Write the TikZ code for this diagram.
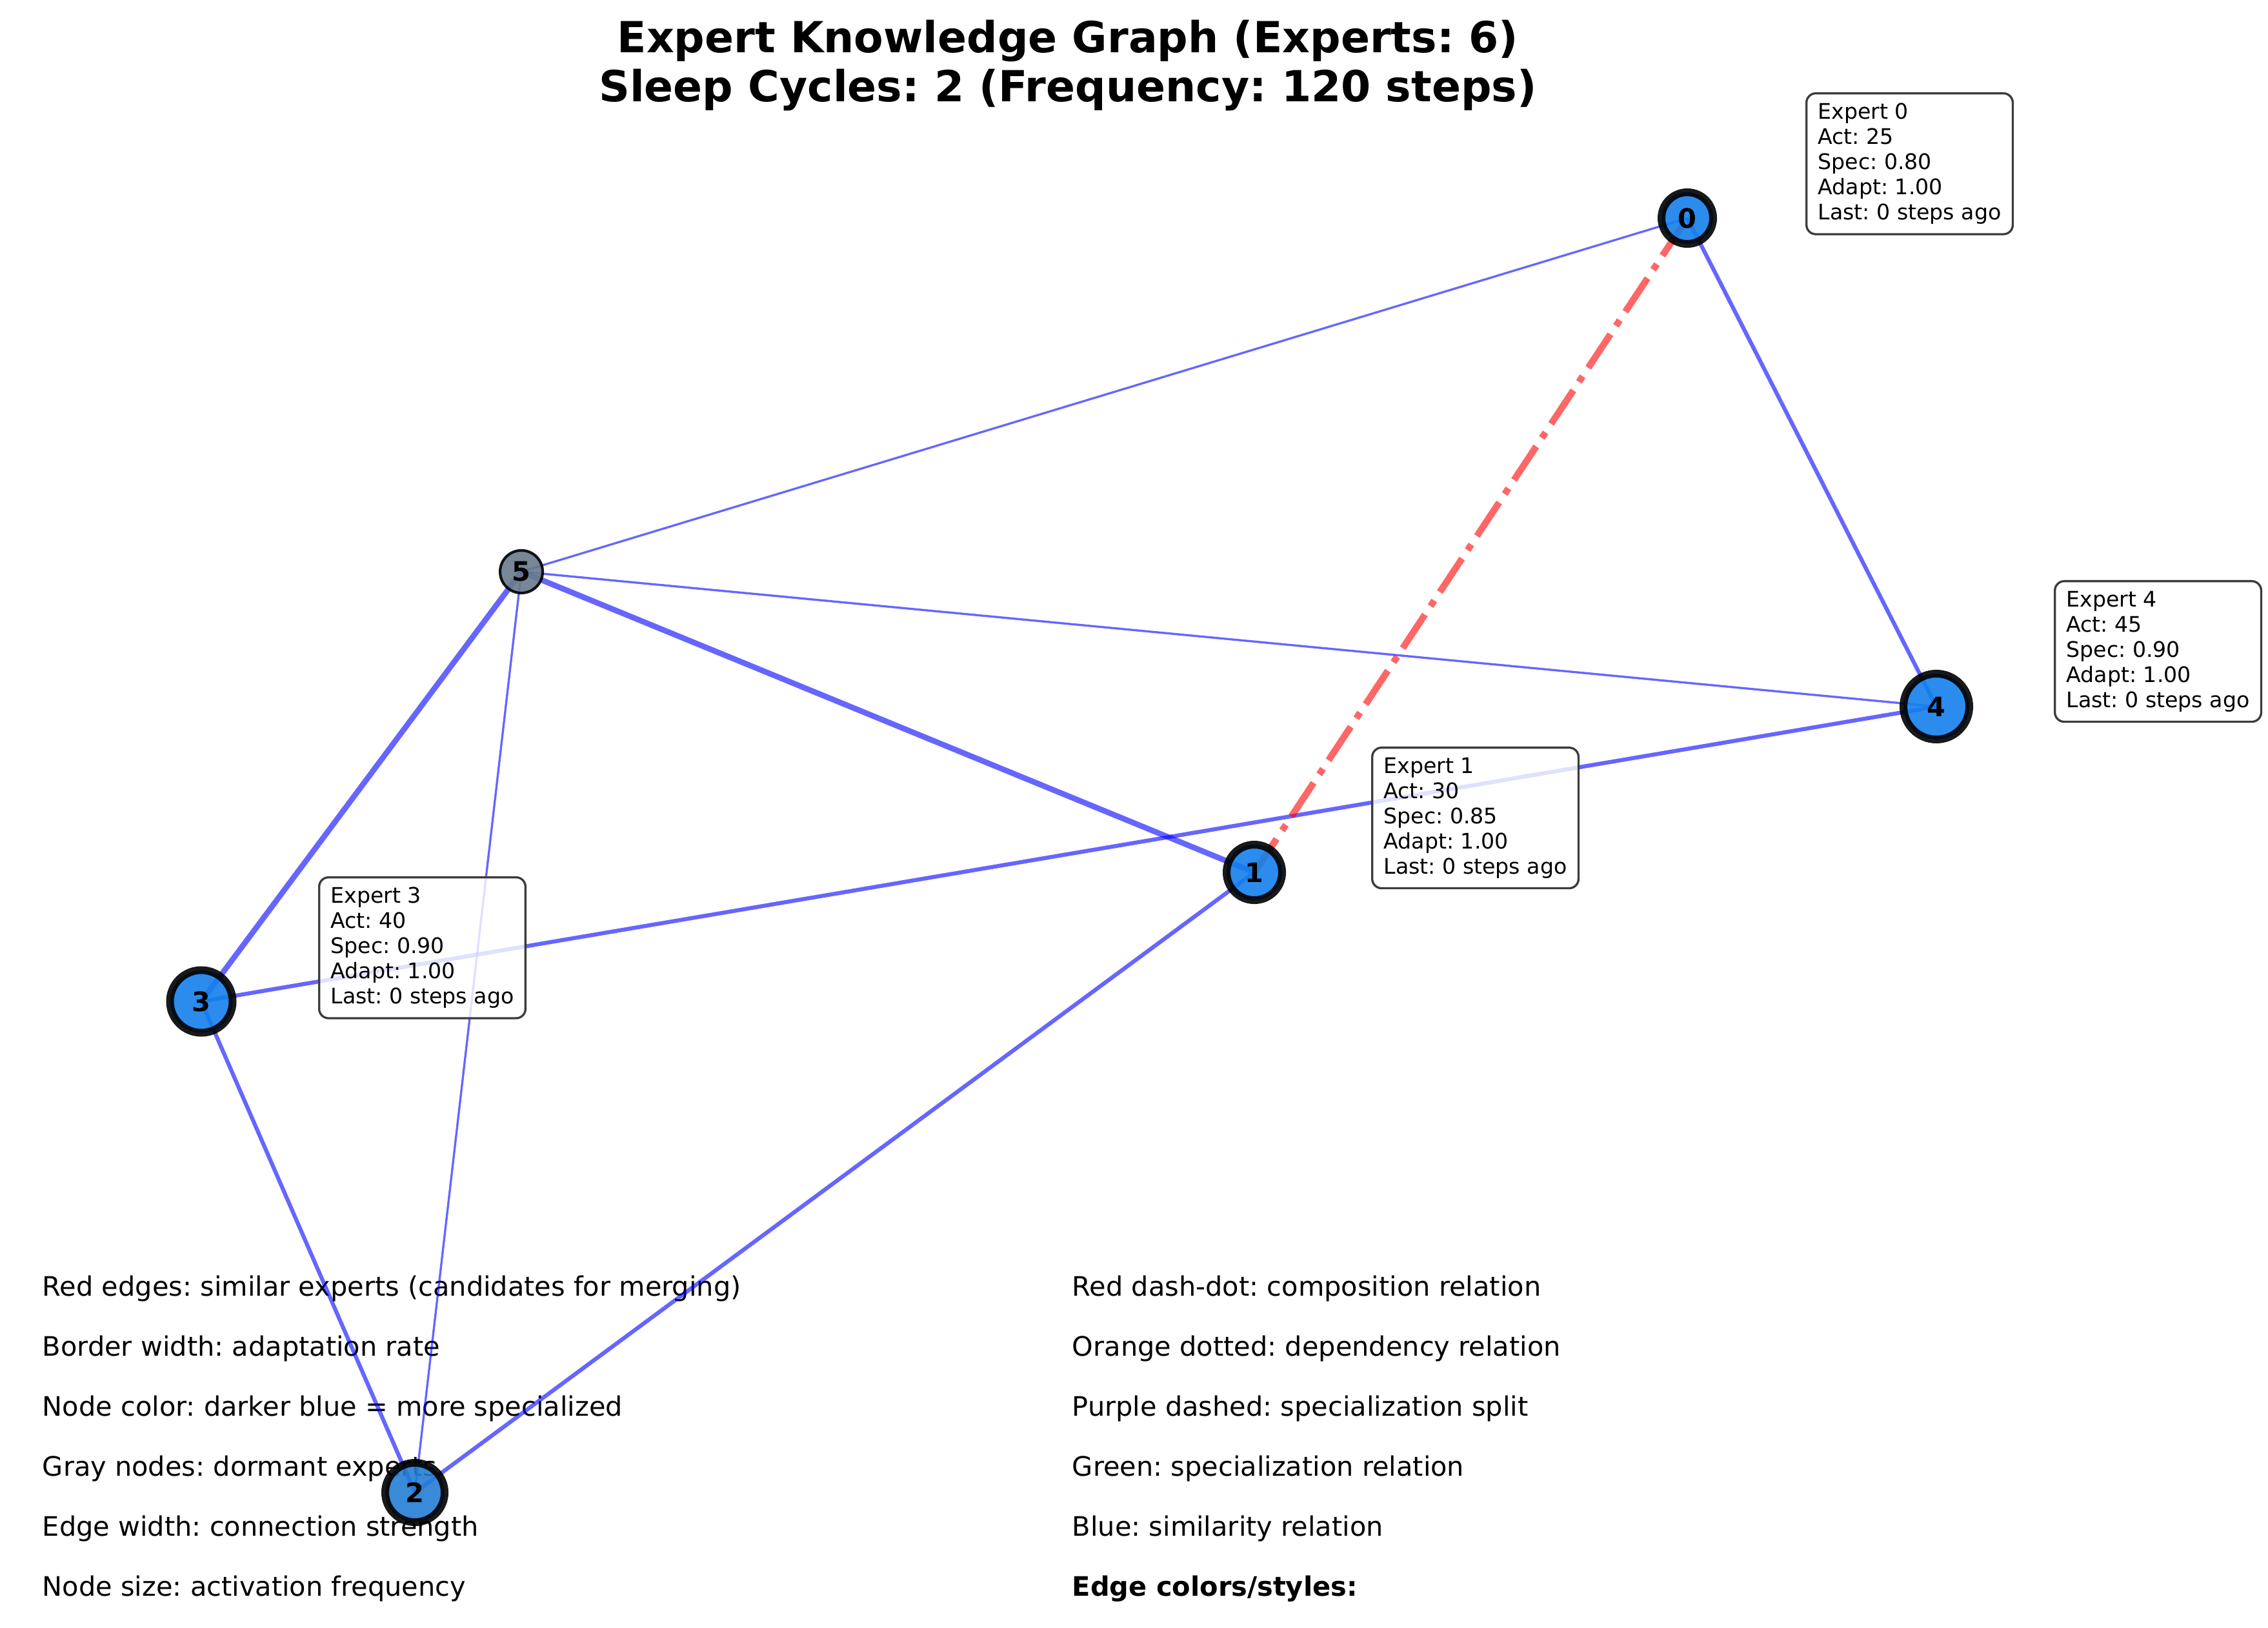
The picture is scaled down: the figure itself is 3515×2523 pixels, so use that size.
\documentclass[tikz,border=0pt]{standalone}
\usepackage{fontspec}
\setmainfont{DejaVu Sans}
\usetikzlibrary{positioning}
\pgfdeclarelayer{back}
\pgfdeclarelayer{edges}
\pgfsetlayers{back,edges,main}
\definecolor{nodeblue}{RGB}{20,128,235}
\definecolor{nodeblueB}{RGB}{36,125,212}
\definecolor{dormantgray}{RGB}{105,122,140}
\definecolor{boxline}{RGB}{60,60,60}

\begin{document}
\frenchspacing
\begin{tikzpicture}[x=0.2409pt, y=-0.2409pt,
    expert/.style={circle, inner sep=0pt, minimum size={#1*0.2409pt}, fill=nodeblue, fill opacity=0.9,
        draw=black, draw opacity=0.9, text opacity=1, line width=2.9pt, font=\bfseries\fontsize{10}{12}\selectfont},
    dormant/.style={expert=#1, fill=dormantgray, line width=1pt},
    infobox/.style={draw=boxline, line width=0.8pt, rounded corners=3.5pt, fill=white, fill opacity=0.8,
        text opacity=1, align=left, anchor=north west, inner xsep=4.3pt, inner ysep=3.7pt,
        font=\fontsize{8}{9.4}\selectfont},
    sim/.style={draw=blue, draw opacity=0.6},
    weak/.style={sim, line width=0.8pt},
    medium/.style={sim, line width=1.5pt},
    strong/.style={sim, line width=2.1pt},
    comp/.style={draw=red, draw opacity=0.6, line width=2.5pt, dash pattern=on 15pt off 3.8pt on 2.5pt off 3.8pt},
    legend/.style={anchor=base west, inner sep=0pt, font=\fontsize{10}{12}\selectfont},
    heading/.style={anchor=base, font=\bfseries\fontsize{16}{19}\selectfont}]
    \useasboundingbox (0,0) rectangle (3515,2523);

    % Title
    \node[heading] (title1) at (1655,82) {Expert Knowledge Graph (Experts: 6)};
    \node[heading] (title2) at (1655,158) {Sleep Cycles: 2 (Frequency: 120 steps)};

    % Experts
    \node[expert=80] (n0) at (2615,338) {0};
    \node[expert=86] (n1) at (1944,1352) {1};
    \node[expert=92, fill=nodeblueB] (n2) at (643,2313) {2};
    \node[expert=97] (n3) at (312,1552) {3};
    \node[expert=102] (n4) at (3001,1095) {4};
    \node[dormant=66] (n5) at (808,886) {5};

    % Relations
    \begin{pgfonlayer}{edges}
    \draw[weak] (n0.center) -- (n5.center);
    \draw[medium] (n0.center) -- (n4.center);
    \draw[weak] (n5.center) -- (n4.center);
    \draw[strong] (n5.center) -- (n1.center);
    \draw[strong] (n5.center) -- (n3.center);
    \draw[weak] (n5.center) -- (n2.center);
    \draw[medium] (n3.center) -- (n4.center);
    \draw[medium] (n3.center) -- (n2.center);
    \draw[medium] (n1.center) -- (n2.center);
    \draw[comp] (n1.center) -- (n0.center);
    \end{pgfonlayer}

    % Expert info
    \node[infobox] (info0) at (2798,143) {Expert 0\\Act: 25\\Spec: 0.80\\Adapt: 1.00\\Last: 0 steps ago};
    \node[infobox] (info4) at (3183,899) {Expert 4\\Act: 45\\Spec: 0.90\\Adapt: 1.00\\Last: 0 steps ago};
    \node[infobox] (info1) at (2125,1157) {Expert 1\\Act: 30\\Spec: 0.85\\Adapt: 1.00\\Last: 0 steps ago};
    \node[infobox] (info3) at (493,1358) {Expert 3\\Act: 40\\Spec: 0.90\\Adapt: 1.00\\Last: 0 steps ago};

    % Legend
    \begin{pgfonlayer}{back}
    \node[legend] (keyA) at (65,2008) {Red edges: similar experts (candidates for merging)};
    \node[legend] (keyB) at (65,2101) {Border width: adaptation rate};
    \node[legend] (keyC) at (65,2194) {Node color: darker blue = more specialized};
    \node[legend] (keyD) at (65,2287) {Gray nodes: dormant experts};
    \node[legend] (keyE) at (65,2380) {Edge width: connection strength};
    \node[legend] (keyF) at (65,2473) {Node size: activation frequency};
    \node[legend] (styA) at (1661,2008) {Red dash-dot: composition relation};
    \node[legend] (styB) at (1661,2101) {Orange dotted: dependency relation};
    \node[legend] (styC) at (1661,2194) {Purple dashed: specialization split};
    \node[legend] (styD) at (1661,2287) {Green: specialization relation};
    \node[legend] (styE) at (1661,2380) {Blue: similarity relation};
    \node[legend, font=\bfseries\fontsize{10}{12}\selectfont] (styF) at (1661,2473) {Edge colors/styles:};
    \end{pgfonlayer}
\end{tikzpicture}
\end{document}
